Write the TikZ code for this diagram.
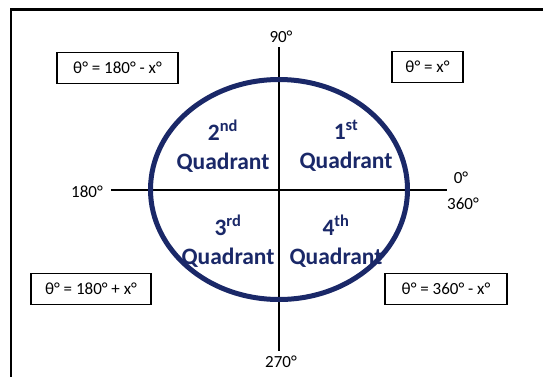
\documentclass[tikz,border=0pt]{standalone}
\usepackage{fontspec}
\setmainfont{Carlito}
\definecolor{navy}{RGB}{26,40,104}
\begin{document}
\begin{tikzpicture}[x=1pt,y=-1pt,
  eqbox/.style={draw,line width=1.4pt,minimum height=31pt,inner sep=0pt,font=\fontsize{17}{20}\selectfont},
  deg/.style={inner sep=0pt,font=\fontsize{17}{20}\selectfont},
  quad/.style={text=navy,inner sep=0pt,align=center,font=\fontsize{23.5}{29}\selectfont\bfseries},
  axis/.style={line width=1.4pt}]
\useasboundingbox (0,0) rectangle (543,376);
\clip (0,0) rectangle (543,376);
\fill[white] (0,0) rectangle (543,376);
% frame
\coordinate (fbl) at (11,390);
\coordinate (ftl) at (11,9.5);
\coordinate (ftr) at (560,9.5);
\draw[line width=2.6pt] (fbl) -- (ftl) -- (ftr);
% axes
\coordinate (vt) at (279,47);
\coordinate (vb) at (279,351);
\coordinate (hl) at (111,190);
\coordinate (hr) at (447,190);
\draw[axis] (vt) -- (vb);
\draw[axis] (hl) -- (hr);
% circle
\node (c) at (279,189.5) {};
\draw[navy,line width=5pt] (c.center) ellipse [x radius=128.5, y radius=110];
% axis labels
\node[deg] (l90) at (281,37) {90°};
\node[deg] (l270) at (281,362) {270°};
\node[deg,anchor=east] (l180) at (103,192) {180°};
\node[deg] (l0) at (461,178) {0°};
\node[deg] (l360) at (463,204) {360°};
% quadrant labels
\node[quad] (q2) at (223,146) {2\textsuperscript{nd}\\Quadrant};
\node[quad] (q1) at (346,146) {1\textsuperscript{st}\\Quadrant};
\node[quad] (q3) at (228,241) {3\textsuperscript{rd}\\Quadrant};
\node[quad] (q4) at (336,241) {4\textsuperscript{th}\\Quadrant};
% equation boxes
\node[eqbox,minimum width=121pt] (b2) at (117.5,68) {θ° = 180° - x°};
\node[eqbox,minimum width=71pt] (b1) at (427.5,67) {θ° = x°};
\node[eqbox,minimum width=120pt] (b3) at (91,289) {θ° = 180° + x°};
\node[eqbox,minimum width=122pt] (b4) at (446,289) {θ° = 360° - x°};
\end{tikzpicture}
\end{document}
